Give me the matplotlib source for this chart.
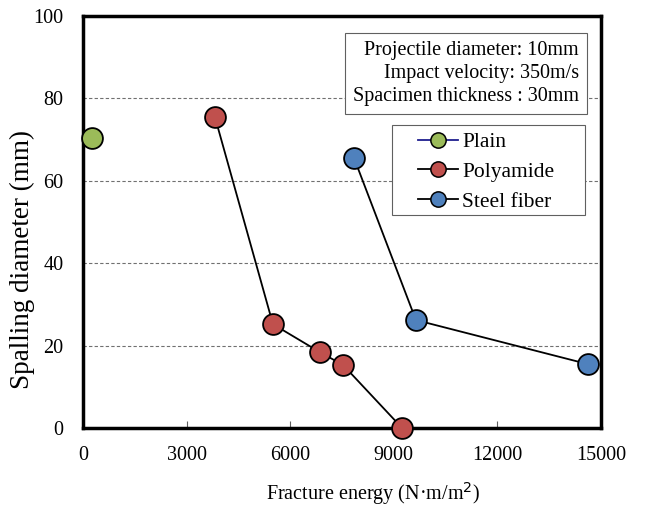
import matplotlib
matplotlib.use("Agg")
import matplotlib.pyplot as plt
from matplotlib.lines import Line2D
from matplotlib.patches import Rectangle

plt.rcParams['font.family'] = ['Liberation Serif', 'DejaVu Serif']

plain_x = [260]
plain_y = [70.4]
poly_x = [3820, 5500, 6860, 7530, 9240]
poly_y = [75.5, 25.2, 18.4, 15.3, 0.0]
steel_x = [7850, 9640, 14620]
steel_y = [65.5, 26.2, 15.5]

series_names = ["Plain", "Polyamide", "Steel fiber"]
colors = ["#9BBB59", "#C0504D", "#4F81BD"]
line_colors = ["#1F1F8F", "black", "black"]

xticks = [0, 3000, 6000, 9000, 12000, 15000]
yticks = [0, 20, 40, 60, 80, 100]

fig = plt.figure(figsize=(6.45, 5.07), dpi=100)
ax = fig.add_axes([83/645, 1-428/507, (601-83)/645, (428-16)/507])

ax.set_xlim(0, 15000)
ax.set_ylim(0, 100)
for y in [20, 40, 60, 80]:
    ax.axhline(y, color="#707070", lw=0.8, ls=(0, (3, 2)), zorder=0)

ms = 15
ax.plot(poly_x, poly_y, color="black", lw=1.3, marker="o", ms=ms,
        mfc=colors[1], mec="black", mew=1.3, zorder=3, clip_on=False)
ax.plot(steel_x, steel_y, color="black", lw=1.3, marker="o", ms=ms,
        mfc=colors[2], mec="black", mew=1.3, zorder=3, clip_on=False)
ax.plot(plain_x, plain_y, color=line_colors[0], lw=1.3, marker="o", ms=ms,
        mfc=colors[0], mec="black", mew=1.3, zorder=3, clip_on=False)

ax.set_xticks(xticks)
ax.set_yticks(yticks)
ax.set_xticklabels([str(t) for t in xticks], fontsize=14.5)
ax.set_yticklabels([str(t) for t in yticks], fontsize=14.5)
ax.tick_params(axis="x", direction="in", length=5, width=0.8, pad=13, color="#606060")
ax.tick_params(axis="y", length=0, pad=14)
for s in ax.spines.values():
    s.set_linewidth(2.5)
    s.set_color("black")

ax.set_xlabel("Fracture energy (N\u00b7m/m$^2$)", fontsize=14.5)
ax.xaxis.set_label_coords(0.56, -0.126)
ax.set_ylabel("Spalling diameter (mm)", fontsize=19.5)
ax.yaxis.set_label_coords(-0.093, 0.408)

ax.text(0.9575, 0.94, "Projectile diameter: 10mm\nImpact velocity: 350m/s\nSpacimen thickness : 30mm",
        transform=ax.transAxes, ha="right", va="top", fontsize=14.5, linespacing=1.3,
        bbox=dict(boxstyle="square,pad=0.4", fc="white", ec="#606060", lw=0.8), zorder=5)

# legend frame
ax.add_patch(Rectangle((0.5965, 0.517), 0.3726, 0.2184, transform=ax.transAxes,
                       fc="white", ec="#606060", lw=0.8, zorder=5))
handles = [Line2D([], [], color=lc, lw=1.3, marker="o", ms=11, mfc=c, mec="black", mew=1.1)
           for lc, c in zip(line_colors, colors)]
leg = ax.legend(handles, series_names, loc="upper left", bbox_to_anchor=(0.6467, 0.718),
                borderaxespad=0, borderpad=0, fontsize=15.5, frameon=False,
                handlelength=1.86, handletextpad=0.2, labelspacing=0.45)
leg.set_zorder(6)

fig.savefig("out.png", dpi=100)
